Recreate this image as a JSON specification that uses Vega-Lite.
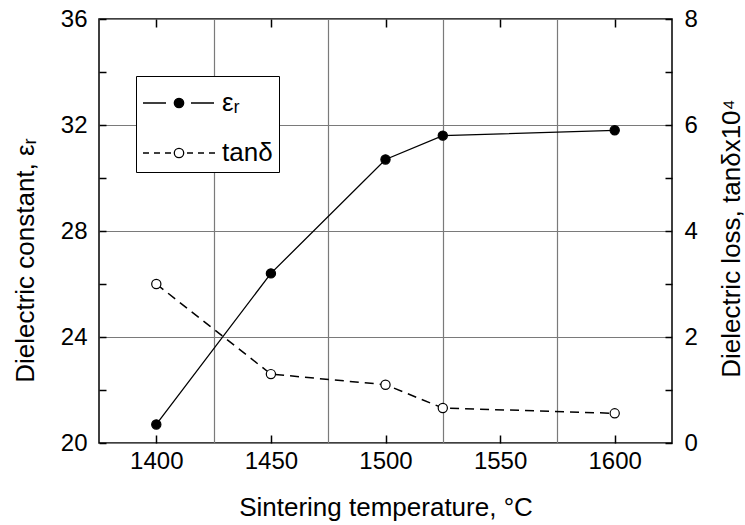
{
  "$schema": "https://vega.github.io/schema/vega-lite/v6.json",
  "width": 573,
  "height": 424,
  "autosize": {"type": "none"},
  "padding": {"left": 99, "top": 19, "right": 73, "bottom": 82},
  "background": "white",
  "config": {
    "font": "Liberation Sans",
    "view": {"stroke": "black", "strokeWidth": 1.5},
    "axis": {
      "labelFont": "Liberation Sans",
      "titleFont": "Liberation Sans",
      "labelFontSize": 24,
      "titleFontSize": 26,
      "titleFontWeight": "normal",
      "labelColor": "black",
      "titleColor": "black",
      "domain": false,
      "ticks": true,
      "tickColor": "black",
      "tickWidth": 1.5,
      "gridColor": "#7a7a7a",
      "gridWidth": 1.2,
      "labelFlush": false,
      "labelOverlap": false
    }
  },
  "data": {
    "values": [
      {"T": 1400, "series": "eps", "value": 20.7},
      {"T": 1450, "series": "eps", "value": 26.4},
      {"T": 1500, "series": "eps", "value": 30.7},
      {"T": 1525, "series": "eps", "value": 31.6},
      {"T": 1600, "series": "eps", "value": 31.8},
      {"T": 1400, "series": "tan", "value": 3.0},
      {"T": 1450, "series": "tan", "value": 1.3},
      {"T": 1500, "series": "tan", "value": 1.1},
      {"T": 1525, "series": "tan", "value": 0.66},
      {"T": 1600, "series": "tan", "value": 0.56}
    ]
  },
  "layer": [
    {
      "transform": [{"filter": "datum.series == 'eps'"}],
      "mark": {"type": "line", "color": "black", "strokeWidth": 1.3},
      "encoding": {
        "x": {
          "field": "T", "type": "quantitative",
          "scale": {"domain": [1375, 1625], "nice": false, "zero": false},
          "axis": {
            "orient": "bottom",
            "values": [1400, 1425, 1450, 1475, 1500, 1525, 1550, 1575, 1600],
            "format": "d",
            "labelExpr": "datum.value % 50 == 0 ? datum.label : ''",
            "grid": true,
            "gridOpacity": {"condition": {"test": "datum.value % 50 != 0", "value": 1}, "value": 0},
            "tickOpacity": {"condition": {"test": "datum.value % 50 == 0", "value": 1}, "value": 0},
            "tickSize": 8,
            "offset": -8,
            "labelPadding": 6,
            "title": "Sintering temperature, °C",
            "titlePadding": 21
          }
        },
        "y": {
          "field": "value", "type": "quantitative",
          "scale": {"domain": [20, 36], "nice": false, "zero": false},
          "axis": {
            "orient": "left",
            "values": [20, 22, 24, 26, 28, 30, 32, 34, 36],
            "labelExpr": "datum.value % 4 == 0 ? datum.label : ''",
            "grid": true,
            "gridOpacity": {"condition": {"test": "datum.value % 4 == 0", "value": 1}, "value": 0},
            "tickSize": 7,
            "offset": -7,
            "labelPadding": 12,
            "title": "Dielectric constant, εᵣ",
            "titlePadding": 22,
            "titleY": 241
          }
        }
      }
    },
    {
      "transform": [{"filter": "datum.series == 'eps'"}],
      "mark": {"type": "point", "shape": "circle", "filled": true, "size": 85, "fill": "black", "stroke": "black", "strokeWidth": 1.2, "opacity": 1},
      "encoding": {
        "x": {"field": "T", "type": "quantitative", "scale": {"domain": [1375, 1625], "nice": false, "zero": false}, "axis": null},
        "y": {"field": "value", "type": "quantitative", "scale": {"domain": [20, 36], "nice": false, "zero": false}, "axis": null}
      }
    },
    {
      "transform": [{"filter": "datum.series == 'tan'"}],
      "mark": {"type": "line", "color": "black", "strokeWidth": 1.5, "strokeDash": [9, 6]},
      "encoding": {
        "x": {
          "field": "T", "type": "quantitative",
          "scale": {"domain": [1375, 1625], "nice": false, "zero": false},
          "axis": {
            "orient": "top",
            "values": [1400, 1450, 1500, 1550, 1600],
            "labels": false, "grid": false, "tickSize": 8, "offset": -8, "title": null
          }
        },
        "y": {
          "field": "value", "type": "quantitative",
          "scale": {"domain": [0, 8], "nice": false, "zero": false},
          "axis": {
            "orient": "right",
            "values": [0, 1, 2, 3, 4, 5, 6, 7, 8],
            "labelExpr": "datum.value % 2 == 0 ? datum.label : ''",
            "grid": false,
            "tickSize": 7,
            "offset": -7,
            "labelPadding": 12,
            "title": "Dielectric loss, tanδx10⁴",
            "titleAngle": 270,
            "titleBaseline": "top",
            "titlePadding": 21,
            "titleY": 219
          }
        }
      }
    },
    {
      "transform": [{"filter": "datum.series == 'tan'"}],
      "mark": {"type": "point", "shape": "circle", "filled": true, "size": 85, "fill": "white", "stroke": "black", "strokeWidth": 1.2, "opacity": 1},
      "encoding": {
        "x": {"field": "T", "type": "quantitative", "scale": {"domain": [1375, 1625], "nice": false, "zero": false}, "axis": null},
        "y": {"field": "value", "type": "quantitative", "scale": {"domain": [0, 8], "nice": false, "zero": false}, "axis": null}
      }
    },
    {
      "transform": [{"filter": "false"}],
      "mark": {"type": "point", "filled": true, "strokeWidth": 1.3, "opacity": 1},
      "encoding": {
        "x": {"field": "T", "type": "quantitative", "scale": {"domain": [1375, 1625], "nice": false, "zero": false}, "axis": null},
        "y": {"field": "value", "type": "quantitative", "scale": {"domain": [0, 8], "nice": false, "zero": false}, "axis": null},
        "fill": {
          "field": "series", "type": "nominal",
          "scale": {"domain": ["eps", "tan"], "range": ["black", "white"]},
          "legend": {
            "orient": "none", "legendX": 37, "legendY": 57,
            "title": null, "direction": "vertical",
            "symbolSize": 1600, "symbolStrokeWidth": 1.3,
            "labelFontSize": 26, "labelFont": "Liberation Sans", "labelColor": "black",
            "labelOffset": 38, "rowPadding": 16, "padding": 6,
            "strokeColor": "black", "fillColor": "white",
            "labelExpr": "datum.value == 'eps' ? 'εᵣ' : 'tanδ'"
          }
        },
        "stroke": {
          "field": "series", "type": "nominal",
          "scale": {"domain": ["eps", "tan"], "range": ["black", "black"]},
          "legend": {
            "orient": "none", "legendX": 37, "legendY": 57,
            "title": null, "direction": "vertical",
            "symbolSize": 1600, "symbolStrokeWidth": 1.3,
            "labelFontSize": 26, "labelFont": "Liberation Sans", "labelColor": "black",
            "labelOffset": 38, "rowPadding": 16, "padding": 6,
            "strokeColor": "black", "fillColor": "white",
            "labelExpr": "datum.value == 'eps' ? 'εᵣ' : 'tanδ'"
          }
        },
        "shape": {
          "field": "series", "type": "nominal",
          "scale": {"domain": ["eps", "tan"], "range": [
            "M-1,0H0.15M1.4,0H2.55M1.035,0A0.235,0.235,0,1,1,0.565,0A0.235,0.235,0,1,1,1.035,0Z",
            "M-1,0H-0.7M-0.45,0H-0.15M0.1,0H0.4M1.2,0H1.5M1.75,0H2.05M2.3,0H2.6M1.035,0A0.235,0.235,0,1,1,0.565,0A0.235,0.235,0,1,1,1.035,0Z"
          ]},
          "legend": {
            "orient": "none", "legendX": 37, "legendY": 57,
            "title": null, "direction": "vertical",
            "symbolSize": 1600, "symbolStrokeWidth": 1.3,
            "labelFontSize": 26, "labelFont": "Liberation Sans", "labelColor": "black",
            "labelOffset": 38, "rowPadding": 16, "padding": 6,
            "strokeColor": "black", "fillColor": "white",
            "labelExpr": "datum.value == 'eps' ? 'εᵣ' : 'tanδ'"
          }
        }
      }
    }
  ],
  "resolve": {"scale": {"y": "independent"}, "axis": {"x": "independent", "y": "independent"}}
}
